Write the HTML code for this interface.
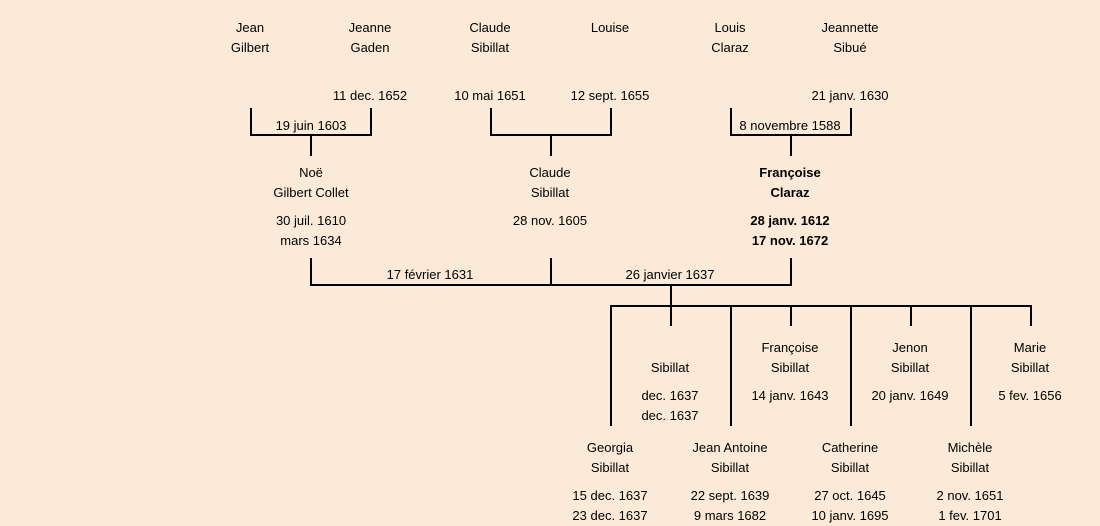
<!DOCTYPE html>
<html><head><meta charset="utf-8"><style>
body{margin:0;width:1100px;height:521px;background:#fbead8;position:relative;overflow:hidden;font-family:"Liberation Sans","DejaVu Sans",sans-serif;font-size:13px;color:#000}
.t{position:absolute;width:160px;margin-left:-80px;text-align:center;line-height:20px;white-space:nowrap;transform:translateY(1px)}
.b{font-weight:bold}
svg{position:absolute;left:0;top:0}
</style></head><body>
<svg width="1100" height="521" stroke="#000" stroke-width="2" fill="none">
<path d="M251 108V135H371V108M311 135V156"/>
<path d="M491 108V135H611V108M551 135V156"/>
<path d="M731 108V135H851V108M791 135V156"/>
<path d="M311 258V285H791V258M551 258V285M671 285V306"/>
<path d="M611 426V306H1031V326M671 306V326M731 306V426M791 306V326M851 306V426M911 306V326M971 306V426"/>
</svg>
<div class="t" style="left:250px;top:17px">Jean<br>Gilbert</div>
<div class="t" style="left:370px;top:17px">Jeanne<br>Gaden</div>
<div class="t" style="left:490px;top:17px">Claude<br>Sibillat</div>
<div class="t" style="left:610px;top:17px">Louise</div>
<div class="t" style="left:730px;top:17px">Louis<br>Claraz</div>
<div class="t" style="left:850px;top:17px">Jeannette<br>Sibué</div>
<div class="t" style="left:370px;top:85px">11 dec. 1652</div>
<div class="t" style="left:490px;top:85px">10 mai 1651</div>
<div class="t" style="left:610px;top:85px">12 sept. 1655</div>
<div class="t" style="left:850px;top:85px">21 janv. 1630</div>
<div class="t" style="left:311px;top:115px">19 juin 1603</div>
<div class="t" style="left:790px;top:115px">8 novembre 1588</div>
<div class="t" style="left:311px;top:162px">Noë<br>Gilbert Collet</div>
<div class="t" style="left:311px;top:210px">30 juil. 1610<br>mars 1634</div>
<div class="t" style="left:550px;top:162px">Claude<br>Sibillat</div>
<div class="t" style="left:550px;top:210px">28 nov. 1605</div>
<div class="t b" style="left:790px;top:162px">Françoise<br>Claraz</div>
<div class="t b" style="left:790px;top:210px">28 janv. 1612<br>17 nov. 1672</div>
<div class="t" style="left:430px;top:264px">17 février 1631</div>
<div class="t" style="left:670px;top:264px">26 janvier 1637</div>
<div class="t" style="left:670px;top:357px">Sibillat</div>
<div class="t" style="left:670px;top:385px">dec. 1637<br>dec. 1637</div>
<div class="t" style="left:790px;top:337px">Françoise<br>Sibillat</div>
<div class="t" style="left:790px;top:385px">14 janv. 1643</div>
<div class="t" style="left:910px;top:337px">Jenon<br>Sibillat</div>
<div class="t" style="left:910px;top:385px">20 janv. 1649</div>
<div class="t" style="left:1030px;top:337px">Marie<br>Sibillat</div>
<div class="t" style="left:1030px;top:385px">5 fev. 1656</div>
<div class="t" style="left:610px;top:437px">Georgia<br>Sibillat</div>
<div class="t" style="left:610px;top:485px">15 dec. 1637<br>23 dec. 1637</div>
<div class="t" style="left:730px;top:437px">Jean Antoine<br>Sibillat</div>
<div class="t" style="left:730px;top:485px">22 sept. 1639<br>9 mars 1682</div>
<div class="t" style="left:850px;top:437px">Catherine<br>Sibillat</div>
<div class="t" style="left:850px;top:485px">27 oct. 1645<br>10 janv. 1695</div>
<div class="t" style="left:970px;top:437px">Michèle<br>Sibillat</div>
<div class="t" style="left:970px;top:485px">2 nov. 1651<br>1 fev. 1701</div>
</body></html>
